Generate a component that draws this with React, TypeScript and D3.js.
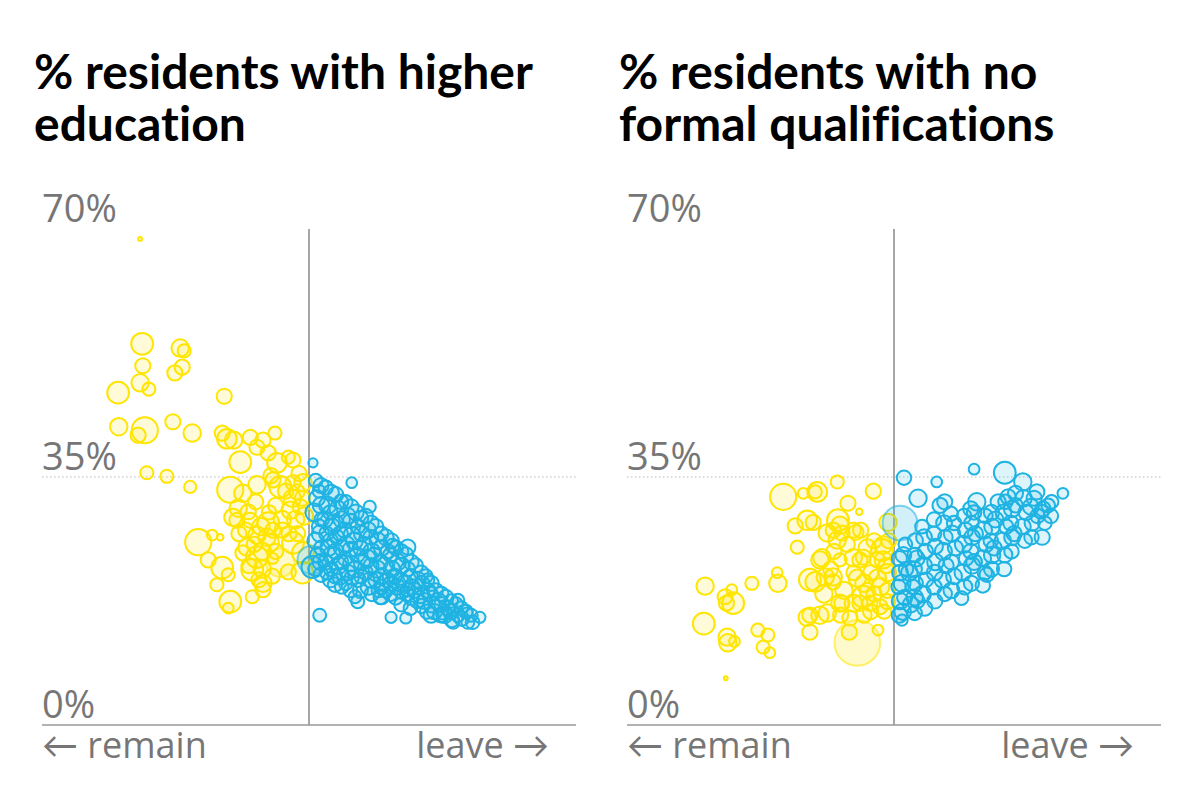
import React from "react";
import * as d3 from "d3";

// [leave %, share %, electorate (thousands)]
type Pt = [number, number, number];

const eduRemain: Pt[] = [
  [24.7,68.6,7],[25.0,53.8,227],[30.7,53.2,145],[31.3,52.8,82],[25.1,50.7,110],[31.0,50.5,110],[29.9,49.7,110],[24.7,48.3,145],[26.0,47.4,82],[21.4,46.9,227],[37.3,46.4,110],[21.5,42.1,145],[25.4,41.6,327],[24.4,40.9,110],[29.6,42.8,110],[32.5,41.2,145],[37.0,41.2,110],[37.7,40.4,184],[39.7,37.1,227],[44.9,41.2,82],[41.2,40.6,110],[43.1,40.2,110],[42.2,39.2,110],[43.9,38.4,110],[45.2,37.0,184],[46.9,37.8,82],[47.6,37.4,110],[25.7,35.6,82],[28.7,35.1,82],[38.7,40.2,145],[44.3,35.2,110],[32.2,33.6,70],
  [38.2,33.2,327],[40.1,32.7,145],[42.2,33.9,145],[44.6,34.6,110],[45.7,33.6,227],[47.6,34.2,110],[49.1,34.2,145],[48.2,32.9,110],[39.4,30.6,145],[40.9,30.1,110],[47.2,30.3,145],[48.7,30.8,110],[39.2,28.9,110],[41.2,28.9,110],[38.6,29.3,145],[43.9,28.5,227],[44.6,27.5,110],[33.4,25.8,327],[35.5,26.8,55],[36.7,26.5,20],[42.2,26.8,145],[43.7,26.5,145],[44.2,25.7,145],[40.7,25.1,145],[40.1,24.3,110],[42.2,23.7,227],[45.7,22.9,385],[47.6,25.7,227],[49.1,24.3,227],[49.0,21.5,227],[46.9,21.6,110],[34.9,23.3,110],[37.0,22.2,227],[37.9,21.2,82],[36.2,19.8,82],[41.5,21.9,227],[43.1,20.0,145],[43.1,19.1,110],[44.6,23.5,55],[38.2,17.4,227],[37.9,16.5,55],[41.5,18.1,82],
  [45,31,110],[46,29,145],[42,31.5,110],[47,27,110],[43,22,145],[41,22.5,110],[45,24.5,110],[48,29,145],[49,32,110],[46.5,33,110],[44,30,100],[39.5,27,110],
  [48.5,35.5,110],[47.5,32,145],[49.3,29.5,145],[46,27.5,110],[42.8,28,145],[40.5,27.5,110],[41.8,25.5,110],[43,24.5,145],[48.3,27,110],[44.5,21,110],[42.5,20.5,110]
];

const eduLeave: Pt[] = [
  [50.6,37.0,40],[50.4,23.3,385],[50.5,22.3,227],
  [51,34.5,90],[51.2,32,120],[50.8,30,150],[51.5,28,100],[51,26,130],[51.3,24,110],[50.9,22,90],[51.5,33,80],
  [52.5,33.5,100],[52.8,31,140],[52.4,29,120],[52.6,27,100],[52.9,25,130],[52.5,23,110],[52.7,21.5,90],
  [54,32.5,110],[54.3,30.5,130],[53.8,28.5,150],[54.2,26.5,100],[54,24.5,120],[54.4,22.5,140],[53.9,21,100],
  [55.5,31.5,90],[55.7,29.5,140],[55.3,27.5,110],[55.6,25.5,130],[55.4,23.5,100],[55.8,21.5,120],[55.5,20,90],
  [57,30,120],[57.3,28,100],[56.8,26,140],[57.2,24,110],[57,22,130],[57.4,20.5,100],
  [58.5,29.5,100],[58.8,27.5,130],[58.3,25.5,110],[58.7,23.5,150],[58.5,21.5,100],[58.9,19.5,120],
  [60,28,110],[60.3,26,130],[59.8,24,100],[60.2,22,140],[60,20.5,110],[60.4,19,90],
  [61.5,26.5,120],[61.8,24.5,100],[61.3,22.5,130],[61.7,20.5,110],[61.5,19,100],
  [63,25,100],[63.3,23,130],[62.8,21,110],[63.2,19.5,120],[63,18,100],
  [64.5,24,110],[64.8,22,100],[64.3,20,130],[64.7,18.5,100],
  [66,22.5,100],[66.3,20.5,120],[65.8,19,110],[66.2,17.5,100],
  [67.5,21,90],[67.8,19,110],[67.3,17.5,120],[67.7,16,100],
  [69,19,100],[69.3,17.5,130],[68.8,16,110],
  [70.5,18,110],[70.8,16.5,100],[70.3,15.5,120],
  [72,17,100],[72.3,15.5,90],
  [73.5,16,90],[73.8,14.5,80],
  [51.8,33.8,110],[51.8,31,130],[51.9,29,100],[51.7,27,140],[51.9,25,110],[51.7,23,120],[51.8,21.2,100],
  [53.3,32.8,120],[53.2,30,100],[53.4,28,130],[53.2,26,110],[53.4,24,140],[53.3,22,100],[53.2,20.5,110],
  [54.8,31.5,100],[54.9,29,130],[54.7,27,110],[54.9,25,120],[54.8,23,100],[54.7,21,130],[54.9,19.5,90],
  [56.3,30.8,110],[56.2,28.8,100],[56.4,26.8,130],[56.2,24.8,110],[56.3,22.8,120],[56.4,20.8,100],[56.2,19,90],
  [57.8,29.2,100],[57.9,27,120],[57.7,25,110],[57.9,23,130],[57.8,21,100],[57.7,19,110],
  [59.3,28.5,110],[59.2,26.5,100],[59.4,24.5,130],[59.3,22.5,110],[59.2,20.5,120],[59.4,18.5,100],
  [60.8,27,100],[60.9,25,120],[60.7,23,110],[60.9,21,130],[60.8,19.5,100],[60.7,18,90],
  [62.3,26,110],[62.2,24,100],[62.4,22,130],[62.3,20,110],[62.2,18.5,100],
  [63.8,24.5,100],[63.9,22.5,120],[63.7,20.5,110],[63.9,18.8,100],[63.8,17,90],
  [65.3,23,110],[65.2,21,100],[65.4,19.5,120],[65.3,18,110],[65.2,16.5,90],
  [66.8,21.5,100],[66.9,20,110],[66.7,18.3,120],[66.9,16.8,100],
  [68.3,20,110],[68.2,18.5,100],[68.4,17,120],[68.3,15.5,110],
  [69.8,18.5,100],[69.9,17,110],[69.7,15.5,100],
  [71.3,17.5,90],[71.2,16,110],[71.4,14.8,100],
  [72.8,16.5,90],[72.9,15,100],
  [74.3,15.5,80],[74.5,14.5,90],
  [56.4,34.2,55],[59.1,30.8,70],[64.8,25.1,110],[62.5,25.3,90],[51.6,15.5,80],[62.3,15.2,60],[64.5,15.1,60],[67.8,20.5,80],[72.3,17.6,80],[73.7,15.8,60],[75.6,15.2,60],[71.6,14.5,80],[70,15.8,80],[53.9,19.8,100],[56.9,18.1,80],[57.3,17.4,80],[60.9,18.1,110],[64.8,19.1,90],[62.9,20.9,90]
];

const qualRemain: Pt[] = [
  [41.5,34.3,82],[33.4,32.2,327],[36.4,32.7,55],[38.5,32.9,184],[38.2,32.9,82],[46.9,33.0,110],[43.1,31.3,110],[44.8,30.1,20],[35.2,28.1,110],[37.0,28.9,184],[37.9,28.6,110],[41.6,28.9,227],[41.9,28.2,145],[40.9,27.5,110],[42.2,27.1,110],[43.9,27.5,110],[44.3,27.2,110],[45.0,27.5,110],[40.0,27.1,145],[41.5,26.1,145],[48.4,25.4,145],[35.5,25.1,82],[39.2,23.6,145],[38.9,23.3,145],[41.9,23.3,82],[43.9,23.6,145],[44.9,23.3,110],[45.4,23.7,110],[48.2,24.7,227],[48.4,23.3,145],[47.5,23.3,110],[37.4,20.5,227],[38.2,20.2,184],[39.7,20.9,145],[40.9,20.9,145],[40.9,20.2,110],[44.5,20.7,145],[47.5,20.7,145],[49.0,21.5,145],[37.0,15.2,145],[37.4,15.5,110],[40.0,15.8,145],[38.9,15.5,145],[41.9,17.2,145],[42.2,17.2,110],[43.9,17.2,145],[44.9,17.2,110],[45.4,18.1,227],[46.4,17.2,110],[47.9,16.7,110],[49.0,17.4,110],[43.4,15.1,110],[37.4,13.1,110],[43.3,13.1,110],[47.6,13.4,55],[21.7,19.6,145],[28.7,20.0,82],[32.5,21.5,55],[32.6,20.0,145],[24.7,18.1,110],[25.9,17.2,227],[25.7,19.1,55],[24.9,17.2,110],[21.5,14.3,227],[25.0,12.4,145],[25.1,11.6,145],[26.1,11.8,55],[29.6,13.4,82],[31.1,12.7,82],[30.4,11.0,82],[31.4,10.2,55],[24.8,6.6,7],
  [46,19,110],[48,19.5,145],[49,19,110],[46.5,21.5,110],[48.5,16,100],[45.5,15.5,110],[42.5,19,145],[44,21.5,110],[47,26,110],[46,25,145],[49.2,26,110],
  [39.5,18.5,145],[41,24.5,110],[43,25.5,110],[45.5,20,145],[47,18.5,110],[48.8,22.5,110],[46.5,16,110],[42,15.5,110],[40.5,22,110],
  [44.5,11.6,1000],[49.1,28.6,145]
];

const qualLeave: Pt[] = [
  [50.9,28.5,580],
  [51.3,16,130],[51.6,18,110],[51.2,20,140],[51.8,22,100],[51.4,24,120],[51.7,25.5,90],[52.5,17,120],[52.8,19.5,100],[52.3,21.5,130],
  [54.6,16.5,110],[54.3,18.5,130],[54.8,20.5,100],[54.4,22.5,140],[54.7,24.5,110],[54.5,26.5,120],[54.2,28,90],[53.5,17.5,100],[53.4,23.5,120],
  [57.6,18.5,100],[57.3,20.5,130],[57.8,22.5,110],[57.4,24.5,140],[57.7,26.5,100],[57.5,28.5,120],[56,19.5,110],[56.2,23,130],[56,27,100],
  [60.6,19.5,110],[60.3,21.5,130],[60.8,23.5,100],[60.4,25.5,140],[60.7,27.5,110],[60.5,29.5,100],[59,21,120],[59.2,25,110],[59,28.5,100],
  [63.6,21.5,100],[63.3,23.5,130],[63.8,25.5,110],[63.4,27.5,140],[63.7,29.5,100],[62,23,120],[62.2,27,110],[62,30,100],
  [66.6,24,110],[66.3,26,130],[66.8,28,100],[66.4,30,120],[66.7,31.5,100],[65,25,110],[65.2,29,120],
  [69.6,26,100],[69.3,28,120],[69.8,30,110],[69.4,32,130],[68,27,110],[68.2,31,100],
  [72.6,28.5,90],[72.3,30.5,110],[71.5,29.5,100],[71,32,110],
  [50.8,15.5,110],[50.9,17.5,130],[50.7,19.5,100],[50.9,21.5,120],[50.8,23.5,110],
  [53.1,15.8,100],[53.1,18,130],[53.2,20,110],[53.0,22,120],[53.1,24,100],[53.2,26,110],
  [56.1,17.5,110],[56.1,21.5,120],[56.2,25.2,110],[56.0,29,100],
  [58.6,19,120],[58.6,23,110],[58.7,27,130],[58.5,29.8,100],
  [61.6,20,110],[61.7,22.5,130],[61.5,24.5,110],[61.7,26.5,120],[61.6,28.5,100],[61.5,30.5,110],
  [64.6,22,110],[64.7,24,130],[64.5,26,100],[64.7,28,120],[64.6,30,110],
  [67.6,24.5,100],[67.7,26.5,120],[67.5,28.5,110],[67.7,30.5,130],
  [70.6,26.5,100],[70.7,28.5,110],[70.5,30.8,120],
  [73.5,29.5,100],[73.6,31.5,90],
  [51.5,34.9,100],[56.4,34.3,55],[62.0,36.1,55],[66.6,35.6,227],[69.3,34.3,145],[71.4,32.9,110],[75.3,32.7,55],[53.6,32.0,145],[56.9,31.0,110],[57.6,31.5,110],[62.4,31.5,145],[65.6,31.5,110],[67.1,32.2,110],[68.2,32.7,110],[73.1,31.0,90],[72.1,30.1,90],[72.2,26.5,110],[51.2,14.8,60],[60.1,17.9,90],[63.3,19.7,100],[66.5,22.0,100],[63.9,21.2,100]
];

const yTicks = [0, 35, 70];
const titleLeft = ["% residents with higher", "education"];
const titleRight = ["% residents with no", "formal qualifications"];

const YELLOW = "#ffe500";
const BLUE = "#1fb3e3";
const GREY = "#767676";

const r = d3.scaleSqrt().domain([0, 1100]).range([0, 24]);

function Panel({ x0, title, remain, leave }: { x0: number; title: string[]; remain: Pt[]; leave: Pt[] }) {
  const x = d3.scaleLinear().domain([10, 90]).range([x0, x0 + 534]);
  const y = d3.scaleLinear().domain([0, 70]).range([725, 229]);
  const titleFont = "Lato, 'Open Sans', sans-serif";
  const font = "'Open Sans', Lato, sans-serif";
  const circle = (d: Pt, i: number, col: string) => {
    const big = d[2] >= 380;
    return (
      <circle key={i} cx={x(d[0])} cy={y(d[1])} r={r(d[2])}
        fill={col} fillOpacity={big ? 0.2 : 0.15}
        stroke={col} strokeOpacity={big ? 0.55 : 1} strokeWidth={2} />
    );
  };
  return (
    <g>
      {title.map((t, i) => (
        <text key={i} x={x0 - 8} y={89 + i * 52} fontFamily={titleFont} fontWeight={700} fontSize={48} fill="#000" style={{ fontVariantLigatures: "none" }}>{t}</text>
      ))}
      {yTicks.map((t) => (
        <text key={t} x={x0} y={y(t) - 7} fontFamily={font} fontWeight={400} fontSize={38} fill={GREY}>{t}%</text>
      ))}
      <line x1={x0} x2={x0 + 534} y1={y(35)} y2={y(35)} stroke="#bbb" strokeWidth={1} strokeDasharray="1.5,2.5" />
      <line x1={x(50)} x2={x(50)} y1={y(70)} y2={y(0)} stroke="#888" strokeWidth={1.5} />
      <line x1={x0} x2={x0 + 534} y1={y(0)} y2={y(0)} stroke="#999" strokeWidth={1.5} />
      {remain.map((d, i) => circle(d, i, YELLOW))}
      {leave.map((d, i) => circle(d, i + 1000, BLUE))}
      <text x={x0} y={758} fontFamily={font} fontWeight={400} fontSize={36} fill={GREY}>← remain</text>
      <text x={x0 + 507} y={758} textAnchor="end" fontFamily={font} fontWeight={400} fontSize={36} fill={GREY}>leave →</text>
    </g>
  );
}

export default function App() {
  return (
    <svg width={1200} height={806} style={{ position: "absolute", left: 0, top: 0, background: "#fff" }}>
      <rect width={1200} height={806} fill="#fff" />
      <Panel x0={42} title={titleLeft} remain={eduRemain} leave={eduLeave} />
      <Panel x0={627} title={titleRight} remain={qualRemain} leave={qualLeave} />
    </svg>
  );
}
